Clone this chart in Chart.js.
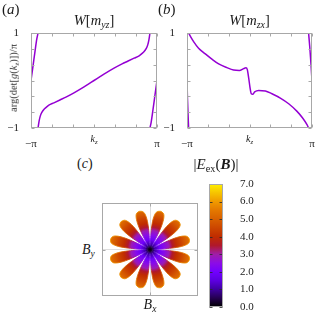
<!DOCTYPE html>
<html>
<head>
<meta charset="utf-8">
<script src="https://cdn.jsdelivr.net/npm/chart.js@4.4.1/dist/chart.umd.min.js"></script>
<style>
  body { margin: 0; background: #fff; }
  #fig { position: relative; width: 335px; height: 322px; overflow: hidden; font-family: 'Liberation Serif', serif; color: #1a1a1a; }
  #fig canvas { position: absolute; }
  .lbl { position: absolute; white-space: nowrap; line-height: 1; }
  .lbl sub { font-size: 0.68em; vertical-align: -0.32em; line-height: 0; }
  .c { text-align: center; }
</style>
</head>
<body>
<div id="fig">
  <canvas id="chartA" width="165" height="150" style="left:0;top:0"></canvas>
  <canvas id="chartB" width="175" height="150" style="left:160px;top:0"></canvas>
  <canvas id="chartC" width="100" height="100" style="left:100px;top:200px"></canvas>
  <canvas id="chartBar" width="60" height="140" style="left:200px;top:175px"></canvas>

  <div class="lbl" style="left:2px;top:2px;font-size:15px">(<i>a</i>)</div>
  <div class="lbl" style="left:158px;top:2px;font-size:15px">(<i>b</i>)</div>
  <div class="lbl" style="left:77px;top:157px;font-size:14px">(<i>c</i>)</div>

  <div class="lbl c" style="left:31px;width:126px;top:13px;font-size:14.5px"><i>W</i>[<i>m</i><sub><i>yz</i></sub>]</div>
  <div class="lbl c" style="left:187px;width:125px;top:13px;font-size:14.5px"><i>W</i>[<i>m</i><sub><i>zx</i></sub>]</div>

  <div class="lbl c" style="left:31px;width:126px;top:134px;font-size:10px"><i>k</i><sub><i>z</i></sub></div>
  <div class="lbl c" style="left:187px;width:125px;top:134px;font-size:10px"><i>k</i><sub><i>z</i></sub></div>

  <div class="lbl" style="left:14px;top:78px;transform:translate(-50%,-50%) rotate(-90deg);font-size:10.5px;color:#333">arg(det[<i>g</i>(<i>k</i><sub><i>z</i></sub>)])/π</div>

  <div class="lbl c" style="left:171px;width:90px;top:157px;font-size:15px">|<i>E</i><sub>ex</sub>(<b><i>B</i></b>)|</div>
  <div class="lbl" style="left:82px;top:243px;font-size:14px"><i>B</i><sub><i>y</i></sub></div>
  <div class="lbl c" style="left:130px;width:40px;top:298px;font-size:14px"><i>B</i><sub><i>x</i></sub></div>
</div>

<script>
// ---- axes ----
const kzTicks = [-Math.PI, -2 * Math.PI / 3, -Math.PI / 3, 0, Math.PI / 3, 2 * Math.PI / 3, Math.PI];
const kzTickLabels = ['−π', '', '', '', '', '', 'π'];
const argTicks = [-1, -2 / 3, -1 / 3, 0, 1 / 3, 2 / 3, 1];
const argTickLabels = ['−1', '', '', '', '', '', '1'];

// ---- (a) W[m_yz], phase wraps at +-1 so three branches ----
const kzYz1 = [-3.1416, -3.04, -2.94, -2.85, -2.79];
const argYz1 = [0, 0.31, 0.62, 0.88, 1];
const kzYz2 = [-2.79, -2.74, -2.68, -2.60, -2.50, -2.40, -2.25, -2.00, -1.70, -1.40, -1.00, -0.60, -0.30, 0,
               0.30, 0.60, 1.00, 1.40, 1.70, 2.00, 2.25, 2.40, 2.50, 2.60, 2.68, 2.74, 2.79];
const argYz2 = [-1, -0.86, -0.75, -0.67, -0.61, -0.57, -0.52, -0.47, -0.41, -0.35, -0.26, -0.16, -0.08, 0,
                0.08, 0.16, 0.26, 0.35, 0.41, 0.47, 0.52, 0.57, 0.61, 0.67, 0.75, 0.86, 1];
const kzYz3 = [2.79, 2.85, 2.94, 3.04, 3.1416];
const argYz3 = [-1, -0.88, -0.62, -0.31, 0];

// ---- (b) W[m_zx] ----
const kzZx1 = [-3.1416, -3.12, -3.09, -3.06];
const argZx1 = [0, -0.35, -0.7, -1];
const kzZx2 = [-3.06, -2.97, -2.81, -2.56, -2.22, -1.89, -1.55, -1.13, -0.80, -0.51, -0.29, -0.18, -0.11, -0.04,
               0.03, 0.09, 0.16, 0.26, 0.46, 0.80, 1.13, 1.55, 1.97, 2.39, 2.67, 2.89, 2.97];
const argZx2 = [1, 0.93, 0.82, 0.68, 0.56, 0.45, 0.35, 0.27, 0.22, 0.21, 0.25, 0.27, 0.23, 0.05,
                -0.16, -0.28, -0.29, -0.24, -0.21, -0.22, -0.28, -0.37, -0.49, -0.65, -0.79, -0.93, -1];
const kzZx3 = [2.97, 3.03, 3.09, 3.1416];
const argZx3 = [1, 0.7, 0.35, 0];

// ---- (c) |E_ex(B)| petals ----
const petalAngles = [15, 45, 75, 105, 135, 165, 195, 225, 255, 285, 315, 345];
const petalAlong = [0, 0.1, 0.2, 0.3, 0.4, 0.5, 0.6, 0.7, 0.78, 0.825, 0.85];
const petalHalfWidth = [0, 0.022, 0.042, 0.062, 0.08, 0.095, 0.105, 0.105, 0.092, 0.066, 0];
const fieldRadius = [0, 0.04, 0.1, 0.2, 0.3, 0.4, 0.47, 0.55, 0.65, 0.75, 0.86];
const fieldValue = [0, 0.2, 1.0, 1.9, 2.4, 2.9, 3.5, 4.0, 4.4, 4.9, 5.4];
const rimValue = [0, 0.3, 1.2, 2.1, 2.6, 3.3, 4.2, 4.8, 5.3, 5.7, 6.0];

// ---- colour bar ----
const cbarStops = [0, 0.5, 1, 1.5, 2, 2.5, 3, 3.5, 4, 4.5, 5, 5.5, 6, 6.5, 7];
const cbarColors = ['#000000', '#24004f', '#3e00a0', '#5c00e0', '#7200ff', '#8c0ce6', '#a01ea8', '#b0182c',
                    '#c02c00', '#cc4600', '#d86000', '#e47800', '#f09a00', '#f6c400', '#fff000'];
const cbarTicks = [0, 1, 2, 3, 4, 5, 6, 7];

const LINE = '#9400d3';
const FRAME = '#a8a8a8';
const tickFont = { family: 'Liberation Serif', size: 11 };

function pairs(xs, ys) { return xs.map((x, i) => ({ x: x, y: ys[i] })); }

function hexRgb(h) { return [1, 3, 5].map(i => parseInt(h.substr(i, 2), 16)); }
function colorAt(v) {
    let i = 0;
    while (i < cbarStops.length - 2 && v > cbarStops[i + 1]) i++;
    const t = Math.min(1, Math.max(0, (v - cbarStops[i]) / (cbarStops[i + 1] - cbarStops[i])));
    const a = hexRgb(cbarColors[i]), b = hexRgb(cbarColors[i + 1]);
    const c = a.map((x, k) => Math.round(x + (b[k] - x) * t));
    return 'rgb(' + c.join(',') + ')';
}

// box + inward tick marks, gnuplot style
const framePlugin = {
    id: 'frame',
    afterDatasetsDraw(chart, args, opts) {
        const { ctx, chartArea: a } = chart;
        const len = opts.tickLength || 3;
        const L = Math.round(a.left) + 0.5, R = Math.round(a.right) - 0.5;
        const T = Math.round(a.top) + 0.5, B = Math.round(a.bottom) - 0.5;
        ctx.save();
        ctx.lineWidth = 1;
        ctx.strokeStyle = opts.tickColor || FRAME;
        ctx.beginPath();
        if (opts.xTicks) {
            const s = chart.scales.x;
            s.ticks.forEach(t => {
                const p = Math.round(s.getPixelForValue(t.value)) + 0.5;
                ctx.moveTo(p, B); ctx.lineTo(p, B - len);
                ctx.moveTo(p, T); ctx.lineTo(p, T + len);
            });
        }
        if (opts.yTicks) {
            const s = chart.scales.y;
            s.ticks.forEach(t => {
                const p = Math.round(s.getPixelForValue(t.value)) + 0.5;
                ctx.moveTo(L, p); ctx.lineTo(L + len, p);
                ctx.moveTo(R, p); ctx.lineTo(R - len, p);
            });
        }
        ctx.stroke();
        ctx.strokeStyle = opts.boxColor || FRAME;
        ctx.strokeRect(L, T, R - L, B - T);
        ctx.restore();
    }
};

function phaseChart(id, yWidth, padRight, branches) {
    return new Chart(document.getElementById(id), {
        type: 'scatter',
        data: {
            datasets: branches.map(b => ({
                data: pairs(b[0], b[1]),
                showLine: true,
                borderColor: LINE,
                borderWidth: 1.5,
                pointRadius: 0,
                cubicInterpolationMode: 'monotone'
            }))
        },
        options: {
            responsive: false, animation: false, devicePixelRatio: 1,
            layout: { padding: { top: 33, right: padRight, left: 0, bottom: 0 } },
            plugins: { legend: { display: false }, tooltip: { enabled: false }, frame: { xTicks: true, yTicks: true } },
            scales: {
                x: {
                    type: 'linear', min: -Math.PI, max: Math.PI,
                    afterBuildTicks: s => { s.ticks = kzTicks.map(v => ({ value: v })); },
                    afterFit: s => { s.height = 22; },
                    ticks: { callback: (v, i) => kzTickLabels[i], font: tickFont, color: '#222', padding: 2, maxRotation: 0, autoSkip: false },
                    grid: { display: false }, border: { display: false }
                },
                y: {
                    min: -1, max: 1,
                    afterBuildTicks: s => { s.ticks = argTicks.map(v => ({ value: v })); },
                    afterFit: s => { s.width = yWidth; },
                    ticks: { callback: (v, i) => argTickLabels[i], font: tickFont, color: '#222', padding: 4, autoSkip: false },
                    grid: { display: false }, border: { display: false }
                }
            }
        },
        plugins: [framePlugin]
    });
}

phaseChart('chartA', 31, 8, [[kzYz1, argYz1], [kzYz2, argYz2], [kzYz3, argYz3]]);
phaseChart('chartB', 27, 23, [[kzZx1, argZx1], [kzZx2, argZx2], [kzZx3, argZx3]]);

// radial fills shared by all petals (body and brighter rim)
const gradCache = {};
function radialFrom(chart, values, key) {
    if (!chart.chartArea) return 'rgba(0,0,0,0)';
    if (gradCache[key]) return gradCache[key];
    const xs = chart.scales.x, ys = chart.scales.y;
    const cx = xs.getPixelForValue(0), cy = ys.getPixelForValue(0);
    const r = xs.getPixelForValue(1) - cx;
    const g = chart.ctx.createRadialGradient(cx, cy, 0, cx, cy, r);
    fieldRadius.forEach((fr, i) => g.addColorStop(fr, colorAt(values[i])));
    gradCache[key] = g;
    return g;
}

const petals = petalAngles.map(deg => {
    const th = deg * Math.PI / 180, c = Math.cos(th), s = Math.sin(th);
    const pts = [];
    petalAlong.forEach((u, i) => {
        const w = petalHalfWidth[i];
        pts.push({ x: u * c - w * s, y: u * s + w * c });
    });
    for (let i = petalAlong.length - 2; i >= 0; i--) {
        const u = petalAlong[i], w = petalHalfWidth[i];
        pts.push({ x: u * c + w * s, y: u * s - w * c });
    }
    return {
        data: pts, showLine: true, fill: 'shape', tension: 0.3, pointRadius: 0,
        borderWidth: 0.9,
        backgroundColor: ctx => radialFrom(ctx.chart, fieldValue, 'body'),
        borderColor: ctx => radialFrom(ctx.chart, rimValue, 'rim')
    };
});

new Chart(document.getElementById('chartC'), {
    type: 'scatter',
    data: { datasets: petals },
    options: {
        responsive: false, animation: false, devicePixelRatio: 1,
        layout: { padding: { top: 3, right: 2, left: 2, bottom: 4 } },
        plugins: { legend: { display: false }, tooltip: { enabled: false }, frame: { xTicks: true, yTicks: true } },
        scales: {
            x: {
                type: 'linear', min: -1, max: 1,
                afterBuildTicks: s => { s.ticks = [{ value: 0 }]; },
                afterFit: s => { s.height = 0; },
                ticks: { display: false },
                grid: { color: '#dedede', drawTicks: false }, border: { display: false }
            },
            y: {
                min: -1, max: 1,
                afterBuildTicks: s => { s.ticks = [{ value: 0 }]; },
                afterFit: s => { s.width = 0; },
                ticks: { display: false },
                grid: { color: '#dedede', drawTicks: false }, border: { display: false }
            }
        }
    },
    plugins: [framePlugin]
});

// colour bar
new Chart(document.getElementById('chartBar'), {
    type: 'bar',
    data: {
        labels: [''],
        datasets: [{
            data: [cbarStops[cbarStops.length - 1]],
            barPercentage: 1, categoryPercentage: 1, borderWidth: 0,
            backgroundColor: ctx => {
                const a = ctx.chart.chartArea;
                if (!a) return '#000';
                const g = ctx.chart.ctx.createLinearGradient(0, a.bottom, 0, a.top);
                const top = cbarStops[cbarStops.length - 1];
                cbarStops.forEach((v, i) => g.addColorStop(v / top, cbarColors[i]));
                return g;
            }
        }]
    },
    options: {
        responsive: false, animation: false, devicePixelRatio: 1,
        layout: { padding: { top: 9, right: 0, left: 9, bottom: 8 } },
        plugins: { legend: { display: false }, tooltip: { enabled: false }, frame: { yTicks: true, tickColor: 'rgba(40,40,40,0.8)', tickLength: 3 } },
        scales: {
            x: { display: false },
            y: {
                position: 'right', min: 0, max: 7,
                afterBuildTicks: s => { s.ticks = cbarTicks.map(v => ({ value: v })); },
                afterFit: s => { s.width = 37; s.paddingTop = 0; s.paddingBottom = 0; },
                ticks: { callback: v => v.toFixed(1), font: tickFont, color: '#222', padding: 9 },
                grid: { display: false }, border: { display: false }
            }
        }
    },
    plugins: [framePlugin]
});
</script>
</body>
</html>
